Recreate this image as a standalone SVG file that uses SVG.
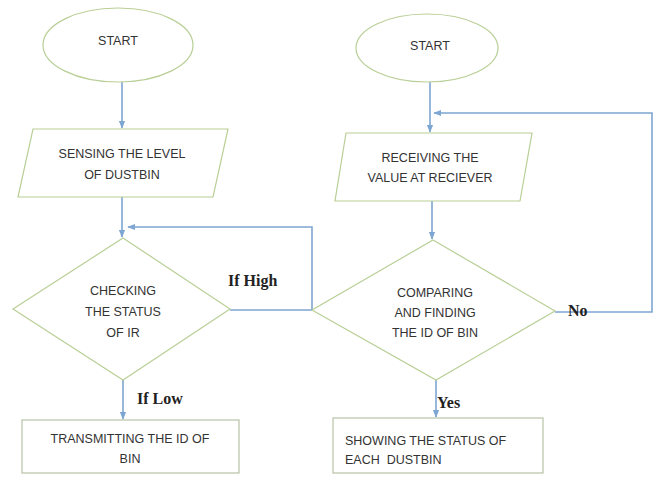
<svg xmlns="http://www.w3.org/2000/svg" width="660" height="484" viewBox="0 0 660 484">
<defs>
<style>
.sh{fill:#fff;stroke:#b9cf96;stroke-width:1.2}
.bx{fill:#fff;stroke:#b8c4a8;stroke-width:1.2}
.ln{fill:none;stroke:#7ea6d2;stroke-width:1.6}
.t{font-family:"Liberation Sans",Arial,sans-serif;font-size:12.5px;fill:#333;text-anchor:middle}
.lb{font-family:"Liberation Serif","Times New Roman",serif;font-size:16px;font-weight:bold;fill:#222}
</style>
<marker id="ar" viewBox="0 0 10 10" refX="9" refY="5" markerWidth="5" markerHeight="5" orient="auto">
<path d="M0,1 L10,5 L0,9 z" fill="#7ea6d2"/>
</marker>
</defs>
<rect width="660" height="484" fill="#fff"/>
<g id="connectors">
<path class="ln" d="M122,82 V128" marker-end="url(#ar)"/>
<path class="ln" d="M122,197 V237" marker-end="url(#ar)"/>
<path class="ln" d="M230,310 H312 V227 H128" marker-end="url(#ar)"/>
<path class="ln" d="M123,380 V419" marker-end="url(#ar)"/>
<path class="ln" d="M430,82 V132" marker-end="url(#ar)"/>
<path class="ln" d="M432,201 V239" marker-end="url(#ar)"/>
<path class="ln" d="M555,312 H652 V113 H434" marker-end="url(#ar)"/>
<path class="ln" d="M436,380 V417" marker-end="url(#ar)"/>
</g>
<g id="start1">
<ellipse class="sh" cx="118" cy="45" rx="75" ry="37"/>
<text class="t" x="118" y="45">START</text>
</g>
<g id="sense">
<polygon class="sh" points="33,129 228,129 213,197 18,197"/>
<text class="t" x="122" y="158">SENSING THE LEVEL</text>
<text class="t" x="122" y="179">OF DUSTBIN</text>
</g>
<g id="check">
<polygon class="sh" points="123,238 230,309 123,380 13,309"/>
<text class="t" x="123" y="295">CHECKING</text>
<text class="t" x="123" y="316">THE STATUS</text>
<text class="t" x="123" y="337">OF IR</text>
</g>
<g id="transmit">
<rect class="bx" x="22" y="420" width="217" height="53"/>
<text class="t" x="130" y="443">TRANSMITTING THE ID OF</text>
<text class="t" x="130" y="463">BIN</text>
</g>
<g id="start2">
<ellipse class="sh" cx="427" cy="48" rx="71" ry="34"/>
<text class="t" x="430" y="50">START</text>
</g>
<g id="receive">
<polygon class="sh" points="346,133 532,133 520,201 335,201"/>
<text class="t" x="430" y="162">RECEIVING THE</text>
<text class="t" x="430" y="182">VALUE AT RECIEVER</text>
</g>
<g id="compare">
<polygon class="sh" points="433,240 555,311 436,380 312,310"/>
<text class="t" x="435" y="297">COMPARING</text>
<text class="t" x="435" y="317">AND FINDING</text>
<text class="t" x="435" y="337">THE ID OF BIN</text>
</g>
<g id="show">
<rect class="bx" x="333" y="418" width="210" height="55"/>
<text class="t" x="345" y="445" style="text-anchor:start">SHOWING THE STATUS OF</text>
<text class="t" x="345" y="464" style="text-anchor:start" xml:space="preserve">EACH  DUSTBIN</text>
</g>
<g id="labels">
<text class="lb" x="228" y="286">If High</text>
<text class="lb" x="137" y="404">If Low</text>
<text class="lb" x="437" y="408">Yes</text>
<text class="lb" x="568" y="316">No</text>
</g>
</svg>
